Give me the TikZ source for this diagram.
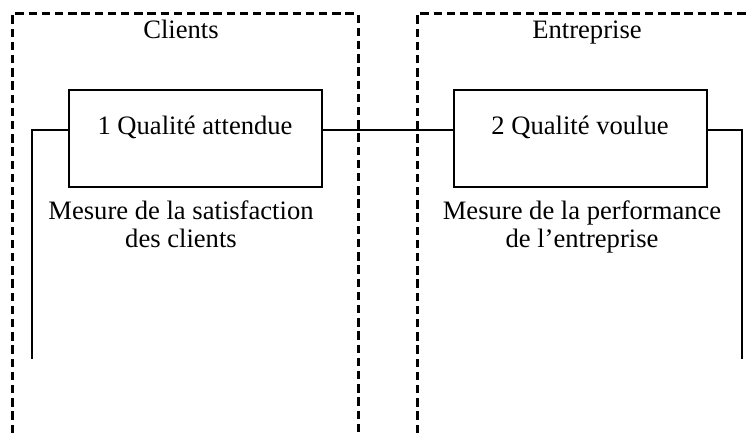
\documentclass[tikz,border=0pt]{standalone}
\usepackage{fontspec}
\setmainfont{Liberation Serif}
\begin{document}
\begin{tikzpicture}[x=0.5pt,y=-0.5pt,font=\fontsize{13.3}{14}\selectfont,
  zone/.style={line width=1.5pt,dash pattern=on 4.2pt off 2.4pt},
  qbox/.style={draw,line width=1pt,inner sep=0pt,minimum width=126.5pt,text height=22.5pt,text depth=26pt,anchor=base},
  link/.style={line width=1pt}]
\useasboundingbox (0,0) rectangle (750,433);
\draw[zone] (12,433)--(12,14)--(358,14)--(358,433);
\draw[zone] (417,433)--(417,14)--(750,14);
\node[anchor=base] (zc) at (181,39) {Clients};
\node[anchor=base] (ze) at (587,39) {Entreprise};
\node[qbox] (q1) at (195,135) {1 Qualité attendue};
\node[qbox] (q2) at (580,135) {2 Qualité voulue};
\node[anchor=base,align=center] (m1) at (181,248) {Mesure de la satisfaction\\des clients};
\node[anchor=base,align=center] (m2) at (582,248) {Mesure de la performance\\de l’entreprise};
\coordinate (e1) at (32,359);
\coordinate (e2) at (742,359);
\draw[link] (q1.mid east)--(q2.mid west);
\draw[link] (q1.mid west)-|(e1);
\draw[link] (q2.mid east)-|(e2);
\end{tikzpicture}
\end{document}
